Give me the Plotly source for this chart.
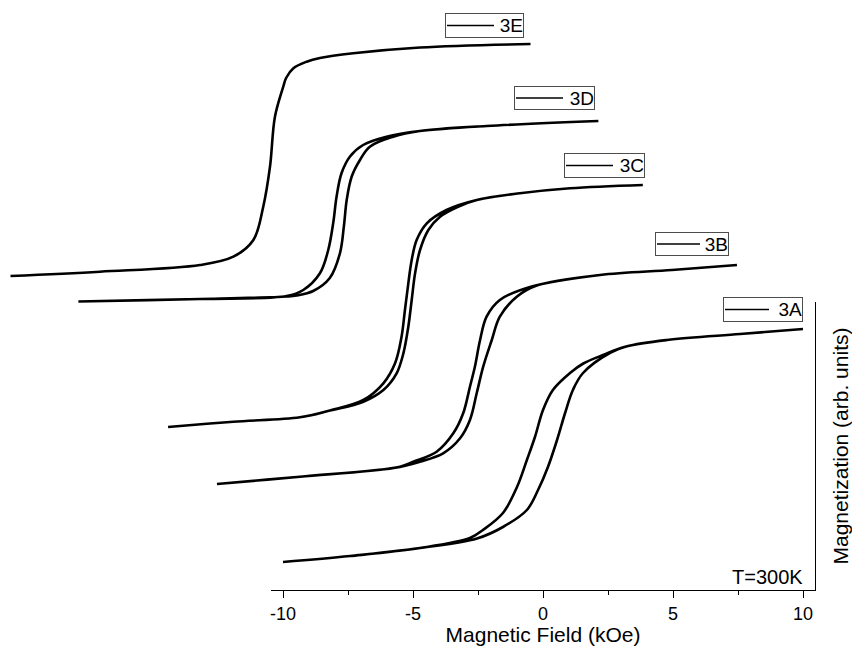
import plotly.graph_objects as go

# Hysteresis loops M(H) at T = 300 K, measured as a closed cycle:
# descending field (+Hmax -> -Hmax) followed by ascending field back to +Hmax.
# Field in kOe, magnetization in arbitrary units.

SAMPLES = ["3A", "3B", "3C", "3D", "3E"]

H_3A = [10, 7.58, 4.77, 3.2, 2.31, 1.55, 1.04, 0.38, 0.0, -0.31, -0.62, -1.0, -1.54, -2.31, -2.81, -4.73, -7.42, -10,
        -7.42, -4.73, -2.54, -1.54, -0.62, -0.19, 0.19, 0.54, 0.85, 1.15, 1.54, 2.6, 3.2, 4.77, 7.58, 10]
M_3A = [1.165, 1.115, 1.055, 0.99, 0.905, 0.82, 0.725, 0.555, 0.355, 0.085, -0.145, -0.415, -0.675, -0.845, -0.925, -1.025, -1.105, -1.165,
        -1.105, -1.025, -0.93, -0.815, -0.645, -0.445, -0.215, 0.055, 0.325, 0.555, 0.725, 0.93, 0.99, 1.055, 1.115, 1.165]

H_3B = [10, 7.5, 4.73, 2.04, 0.88, 0.37, 0.12, -0.08, -0.27, -0.53, -0.91, -1.55, -2.45, -2.96, -6.81, -10,
        -6.81, -3.2, -2.19, -1.30, -0.65, -0.27, -0.01, 0.24, 0.57, 0.88, 1.53, 2.3, 4.73, 7.5, 10]
M_3B = [1.095, 1.045, 0.995, 0.875, 0.745, 0.578, 0.345, 0.078, -0.122, -0.388, -0.588, -0.772, -0.872, -0.922, -1.022, -1.095,
        -1.022, -0.935, -0.872, -0.788, -0.638, -0.455, -0.188, 0.078, 0.345, 0.578, 0.778, 0.89, 0.995, 1.045, 1.095]

H_3C = [9.13, 6.33, 4.40, 2.74, 1.58, 0.82, 0.43, 0.24, 0.11, -0.02, -0.15, -0.40, -0.85, -1.62, -2.90, -4.06, -6.62, -9.13,
        -6.62, -4.06, -2.90, -1.62, -0.85, -0.34, -0.08, 0.11, 0.24, 0.37, 0.56, 0.88, 1.33, 2.0, 2.74, 4.40, 6.33, 9.13]
M_3C = [1.21, 1.177, 1.127, 1.06, 0.96, 0.827, 0.66, 0.46, 0.227, -0.04, -0.307, -0.573, -0.773, -0.94, -1.045, -1.113, -1.157, -1.21,
        -1.157, -1.113, -1.045, -0.957, -0.84, -0.673, -0.473, -0.207, 0.06, 0.327, 0.56, 0.76, 0.893, 0.99, 1.06, 1.127, 1.177, 1.21]

H_3D = [10, 5.70, 3.13, 1.85, 0.95, 0.44, 0.12, -0.07, -0.20, -0.39, -0.71, -1.35, -1.99, -5.33, -10,
        -5.33, -1.99, -1.61, -0.97, -0.33, 0.06, 0.21, 0.32, 0.51, 0.83, 1.21, 2.11, 3.13, 5.70, 10]
M_3D = [0.93, 0.88, 0.83, 0.773, 0.69, 0.573, 0.407, 0.173, -0.093, -0.36, -0.593, -0.76, -0.82, -0.85, -0.875,
        -0.85, -0.825, -0.815, -0.77, -0.64, -0.393, -0.127, 0.14, 0.373, 0.54, 0.673, 0.773, 0.83, 0.88, 0.93]

H_3E = [10, 5.75, 3.18, 1.90, 1.39, 0.88, 0.60, 0.49, 0.17, -0.02, -0.28, -0.66, -1.43, -2.71, -6.56, -10,
        -6.56, -2.71, -1.43, -0.66, -0.28, -0.02, 0.17, 0.49, 0.60, 0.88, 1.39, 1.90, 3.18, 5.75, 10]
M_3E = [1.16, 1.125, 1.067, 1.02, 0.983, 0.917, 0.82, 0.733, 0.433, -0.067, -0.467, -0.80, -0.967, -1.05, -1.117, -1.16,
        -1.117, -1.05, -0.967, -0.80, -0.467, -0.067, 0.433, 0.733, 0.82, 0.917, 0.983, 1.02, 1.067, 1.125, 1.16]

FIELD = {"3A": H_3A, "3B": H_3B, "3C": H_3C, "3D": H_3D, "3E": H_3E}
MAGN = {"3A": M_3A, "3B": M_3B, "3C": M_3C, "3D": M_3D, "3E": M_3E}

# Waterfall offsets (kOe, arb. units) used to stack the loops
X_SHIFT = {"3A": 0.0, "3B": -2.54, "3C": -5.29, "3D": -7.87, "3E": -10.48}
Y_SHIFT = {"3A": 0.0, "3B": 0.71, "3C": 1.395, "3D": 2.315, "3E": 2.855}

W, HGT = 852, 646
PX_PER_KOE = 26.0
PX_PER_UNIT = 100.0
X0_PX, Y0_PX = 543.0, 445.5        # pixel of H = 0, M = 0 for the unshifted loop

# per-curve label boxes: left, top, width, height, swatch length (pixels)
LABEL_BOX = {"3A": (723, 297, 80, 25, 44), "3B": (655, 232, 74, 24, 43), "3C": (564, 153, 81, 25, 47),
             "3D": (514, 86, 81, 24, 47), "3E": (445, 13, 79, 25, 47)}

FONT = "Liberation Sans, Arial, sans-serif"

fig = go.Figure()

# empty trace so the framed field axis subplot is created
fig.add_trace(go.Scatter(x=[], y=[], xaxis="x", yaxis="y", showlegend=False, hoverinfo="skip"))

for s in SAMPLES:
    fig.add_trace(go.Scatter(
        x=[h + X_SHIFT[s] for h in FIELD[s]],
        y=[m + Y_SHIFT[s] for m in MAGN[s]],
        mode="lines",
        line=dict(color="black", width=2.6, shape="spline", smoothing=1.0),
        name=s,
        xaxis="x2", yaxis="y2",
        showlegend=False,
    ))

# full-figure data axes (hidden), same scale as the visible field axis
x2_range = [(0 - X0_PX) / PX_PER_KOE, (W - X0_PX) / PX_PER_KOE]
y2_range = [(Y0_PX - HGT) / PX_PER_UNIT, Y0_PX / PX_PER_UNIT]

ax_left, ax_right, ax_bottom, ax_top = 271, 815, 590, 302
x_range = [(ax_left - X0_PX) / PX_PER_KOE, (ax_right - X0_PX) / PX_PER_KOE]

annotations = [dict(
    text="T=300K", xref="paper", yref="paper",
    x=767 / W, y=1 - 577 / HGT, xanchor="center", yanchor="middle",
    showarrow=False, font=dict(size=20, family=FONT, color="black"),
)]
shapes = []
for s in SAMPLES:
    bx, by, bw, bh, sw = LABEL_BOX[s]
    annotations.append(dict(
        text=s, xref="paper", yref="paper",
        x=bx / W, y=1 - by / HGT, xanchor="left", yanchor="top",
        width=bw - 2, height=bh - 2, align="right", valign="middle",
        showarrow=False, bgcolor="rgba(255,255,255,0)",
        bordercolor="#4d4d4d", borderwidth=1, borderpad=0,
        font=dict(size=19, family=FONT, color="black"),
    ))
    yc = 1 - (by + bh / 2) / HGT
    shapes.append(dict(
        type="line", xref="paper", yref="paper",
        x0=(bx + 2) / W, x1=(bx + 2 + sw) / W, y0=yc, y1=yc,
        line=dict(color="black", width=1.6),
    ))

layout = dict(
    width=W, height=HGT,
    margin=dict(l=0, r=0, t=0, b=0),
    paper_bgcolor="white",
    plot_bgcolor="rgba(0,0,0,0)",
    font=dict(family=FONT, color="black"),
    xaxis=dict(
        domain=[ax_left / W, ax_right / W],
        range=x_range,
        anchor="y",
        showline=True, linecolor="black", linewidth=1.2,
        showgrid=False, zeroline=False,
        ticks="outside", ticklen=7, tickwidth=1.2, tickcolor="black",
        tickvals=[-10, -5, 0, 5, 10],
        ticktext=["-10", "-5", "0", "5", "10"],
        tickfont=dict(size=18, family=FONT, color="black"),
        minor=dict(tickvals=[-7.5, -2.5, 2.5, 7.5], ticks="outside", ticklen=4,
                   tickwidth=1.2, tickcolor="black", showgrid=False),
        title=dict(text="Magnetic Field (kOe)", font=dict(size=21, family=FONT), standoff=4),
        automargin=False,
        fixedrange=True,
    ),
    yaxis=dict(
        domain=[1 - ax_bottom / HGT, 1 - ax_top / HGT],
        range=[0, 1],
        anchor="x",
        side="right",
        showline=True, linecolor="black", linewidth=1.2,
        showgrid=False, zeroline=False,
        showticklabels=False, ticks="",
        title=dict(text="Magnetization (arb. units)", font=dict(size=21, family=FONT), standoff=18),
        automargin=False,
        fixedrange=True,
    ),
    xaxis2=dict(domain=[0, 1], range=x2_range, anchor="y2", visible=False, fixedrange=True),
    yaxis2=dict(domain=[0, 1], range=y2_range, anchor="x2", visible=False, fixedrange=True),
    annotations=annotations,
    shapes=shapes,
)

fig.update_layout(**layout)
fig.write_html("out.html")
